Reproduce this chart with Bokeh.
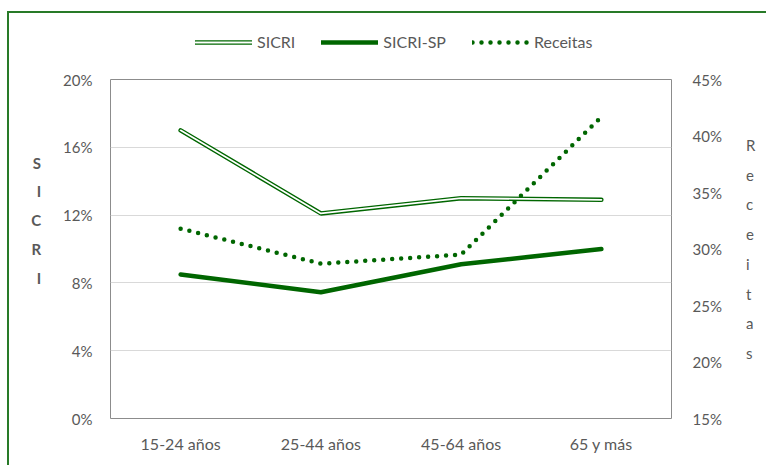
from bokeh.plotting import figure
from bokeh.layouts import column
from bokeh.models import (Range1d, LinearAxis, NumeralTickFormatter, FixedTicker,
                          Legend, LegendItem, FactorRange, InlineStyleSheet)
from bokeh.embed import file_html
from bokeh.resources import INLINE

# Age groups and the three series
categories = ["15-24 años", "25-44 años", "45-64 años", "65 y más"]
sicri = [0.170, 0.121, 0.130, 0.129]
sicri_sp = [0.085, 0.0745, 0.091, 0.100]
receitas = [0.318, 0.287, 0.295, 0.417]

left_ticks = [0.0, 0.04, 0.08, 0.12, 0.16, 0.20]
right_ticks = [0.15, 0.20, 0.25, 0.30, 0.35, 0.40, 0.45]

GREEN = "#006600"
TEXT = "#595959"
FONT = "Lato"

# line styles shared by the chart and its legend strip
STYLES = {
    "sicri_outer": dict(line_color=GREEN, line_width=4.5, line_cap="round"),
    "sicri_inner": dict(line_color="white", line_width=1.8, line_cap="round"),
    "sicri_sp": dict(line_color=GREEN, line_width=4.5, line_cap="round"),
    "receitas": dict(line_color=GREEN, line_width=4.5, line_dash="0 9", line_cap="round"),
}

LEGEND_H = 62

# ---- main chart ----
p = figure(width=766, height=465 - LEGEND_H, output_backend="svg", toolbar_location=None,
           x_range=FactorRange(*categories, range_padding=0),
           y_range=Range1d(0, 0.20),
           min_border_left=110, min_border_right=95,
           min_border_top=79 - LEGEND_H, min_border_bottom=47)

p.outline_line_color = "#8c8c8c"
p.outline_line_width = 1
p.xgrid.grid_line_color = None
p.ygrid.grid_line_color = "#d9d9d9"
p.ygrid.grid_line_width = 1
p.ygrid.ticker = FixedTicker(ticks=left_ticks)

p.extra_y_ranges = {"rec": Range1d(0.15, 0.45)}
right_axis = LinearAxis(y_range_name="rec", ticker=FixedTicker(ticks=right_ticks),
                        formatter=NumeralTickFormatter(format="0%"))
p.add_layout(right_axis, "right")

left_axis = p.yaxis[0]
left_axis.ticker = FixedTicker(ticks=left_ticks)
left_axis.formatter = NumeralTickFormatter(format="0%")

for ax, standoff, size in ((p.xaxis[0], 15, "16px"), (left_axis, 18, "15px"),
                           (right_axis, 21, "15px")):
    ax.axis_line_color = None
    ax.major_tick_line_color = None
    ax.minor_tick_line_color = None
    ax.major_tick_out = 0
    ax.major_tick_in = 0
    ax.minor_tick_out = 0
    ax.minor_tick_in = 0
    ax.major_label_text_font = FONT
    ax.major_label_text_font_size = size
    ax.major_label_text_color = TEXT
    ax.major_label_standoff = standoff

# stacked, letter-per-line axis titles
left_axis.axis_label = "S\nI\nC\nR\nI\n \n "
left_axis.axis_label_orientation = "horizontal"
left_axis.axis_label_text_font = FONT
left_axis.axis_label_text_font_size = "15px"
left_axis.axis_label_text_font_style = "bold"
left_axis.axis_label_text_color = TEXT
left_axis.axis_label_text_align = "center"
left_axis.axis_label_text_line_height = 1.6
left_axis.axis_label_standoff = 19

right_axis.axis_label = "R\ne\nc\ne\ni\nt\na\ns"
right_axis.axis_label_orientation = "horizontal"
right_axis.axis_label_text_font = FONT
right_axis.axis_label_text_font_size = "15px"
right_axis.axis_label_text_font_style = "normal"
right_axis.axis_label_text_color = TEXT
right_axis.axis_label_text_align = "center"
right_axis.axis_label_text_line_height = 1.65
right_axis.axis_label_standoff = 21

# SICRI: double line (green stroke with white core)
p.line(categories, sicri, **STYLES["sicri_outer"])
p.line(categories, sicri, **STYLES["sicri_inner"])
# SICRI-SP: heavy solid line
p.line(categories, sicri_sp, **STYLES["sicri_sp"])
# Receitas: round dotted line on the right axis
p.line(categories, receitas, y_range_name="rec", **STYLES["receitas"])

# ---- legend strip above the chart ----
lg = figure(width=766, height=LEGEND_H, output_backend="svg", toolbar_location=None,
            x_range=Range1d(0, 1), y_range=Range1d(0, 1),
            min_border=0, x_axis_type=None, y_axis_type=None)
lg.outline_line_color = None
lg.grid.grid_line_color = None
# swatch renderers sit outside the visible range; only their legend glyphs show
k = {name: lg.line([-2, -1], [-1, -1], **style) for name, style in STYLES.items()}

legend = Legend(items=[
    LegendItem(label="SICRI", renderers=[k["sicri_outer"], k["sicri_inner"]]),
    LegendItem(label="SICRI-SP", renderers=[k["sicri_sp"]]),
    LegendItem(label="Receitas", renderers=[k["receitas"]]),
], orientation="horizontal", location=(85, LEGEND_H - 41 - 10))
legend.glyph_width = 57
legend.glyph_height = 12
legend.label_standoff = 5
legend.spacing = 26
legend.padding = 0
legend.margin = 0
legend.border_line_color = None
legend.background_fill_alpha = 0
legend.label_text_font = FONT
legend.label_text_font_size = "16px"
legend.label_text_color = TEXT
lg.add_layout(legend, "center")

# thin green frame around the whole chart (top and left edges fall inside the page)
frame_css = InlineStyleSheet(css="""
:host { position: relative; }
:host::after {
  content: "";
  position: absolute;
  left: 7px; top: 11px; right: 0; bottom: 0;
  border-top: 2px solid #287a28;
  border-left: 2px solid #287a28;
  pointer-events: none;
}
""")

page = column(lg, p, spacing=0, stylesheets=[frame_css])

open("out.html", "w").write(file_html(page, INLINE))
